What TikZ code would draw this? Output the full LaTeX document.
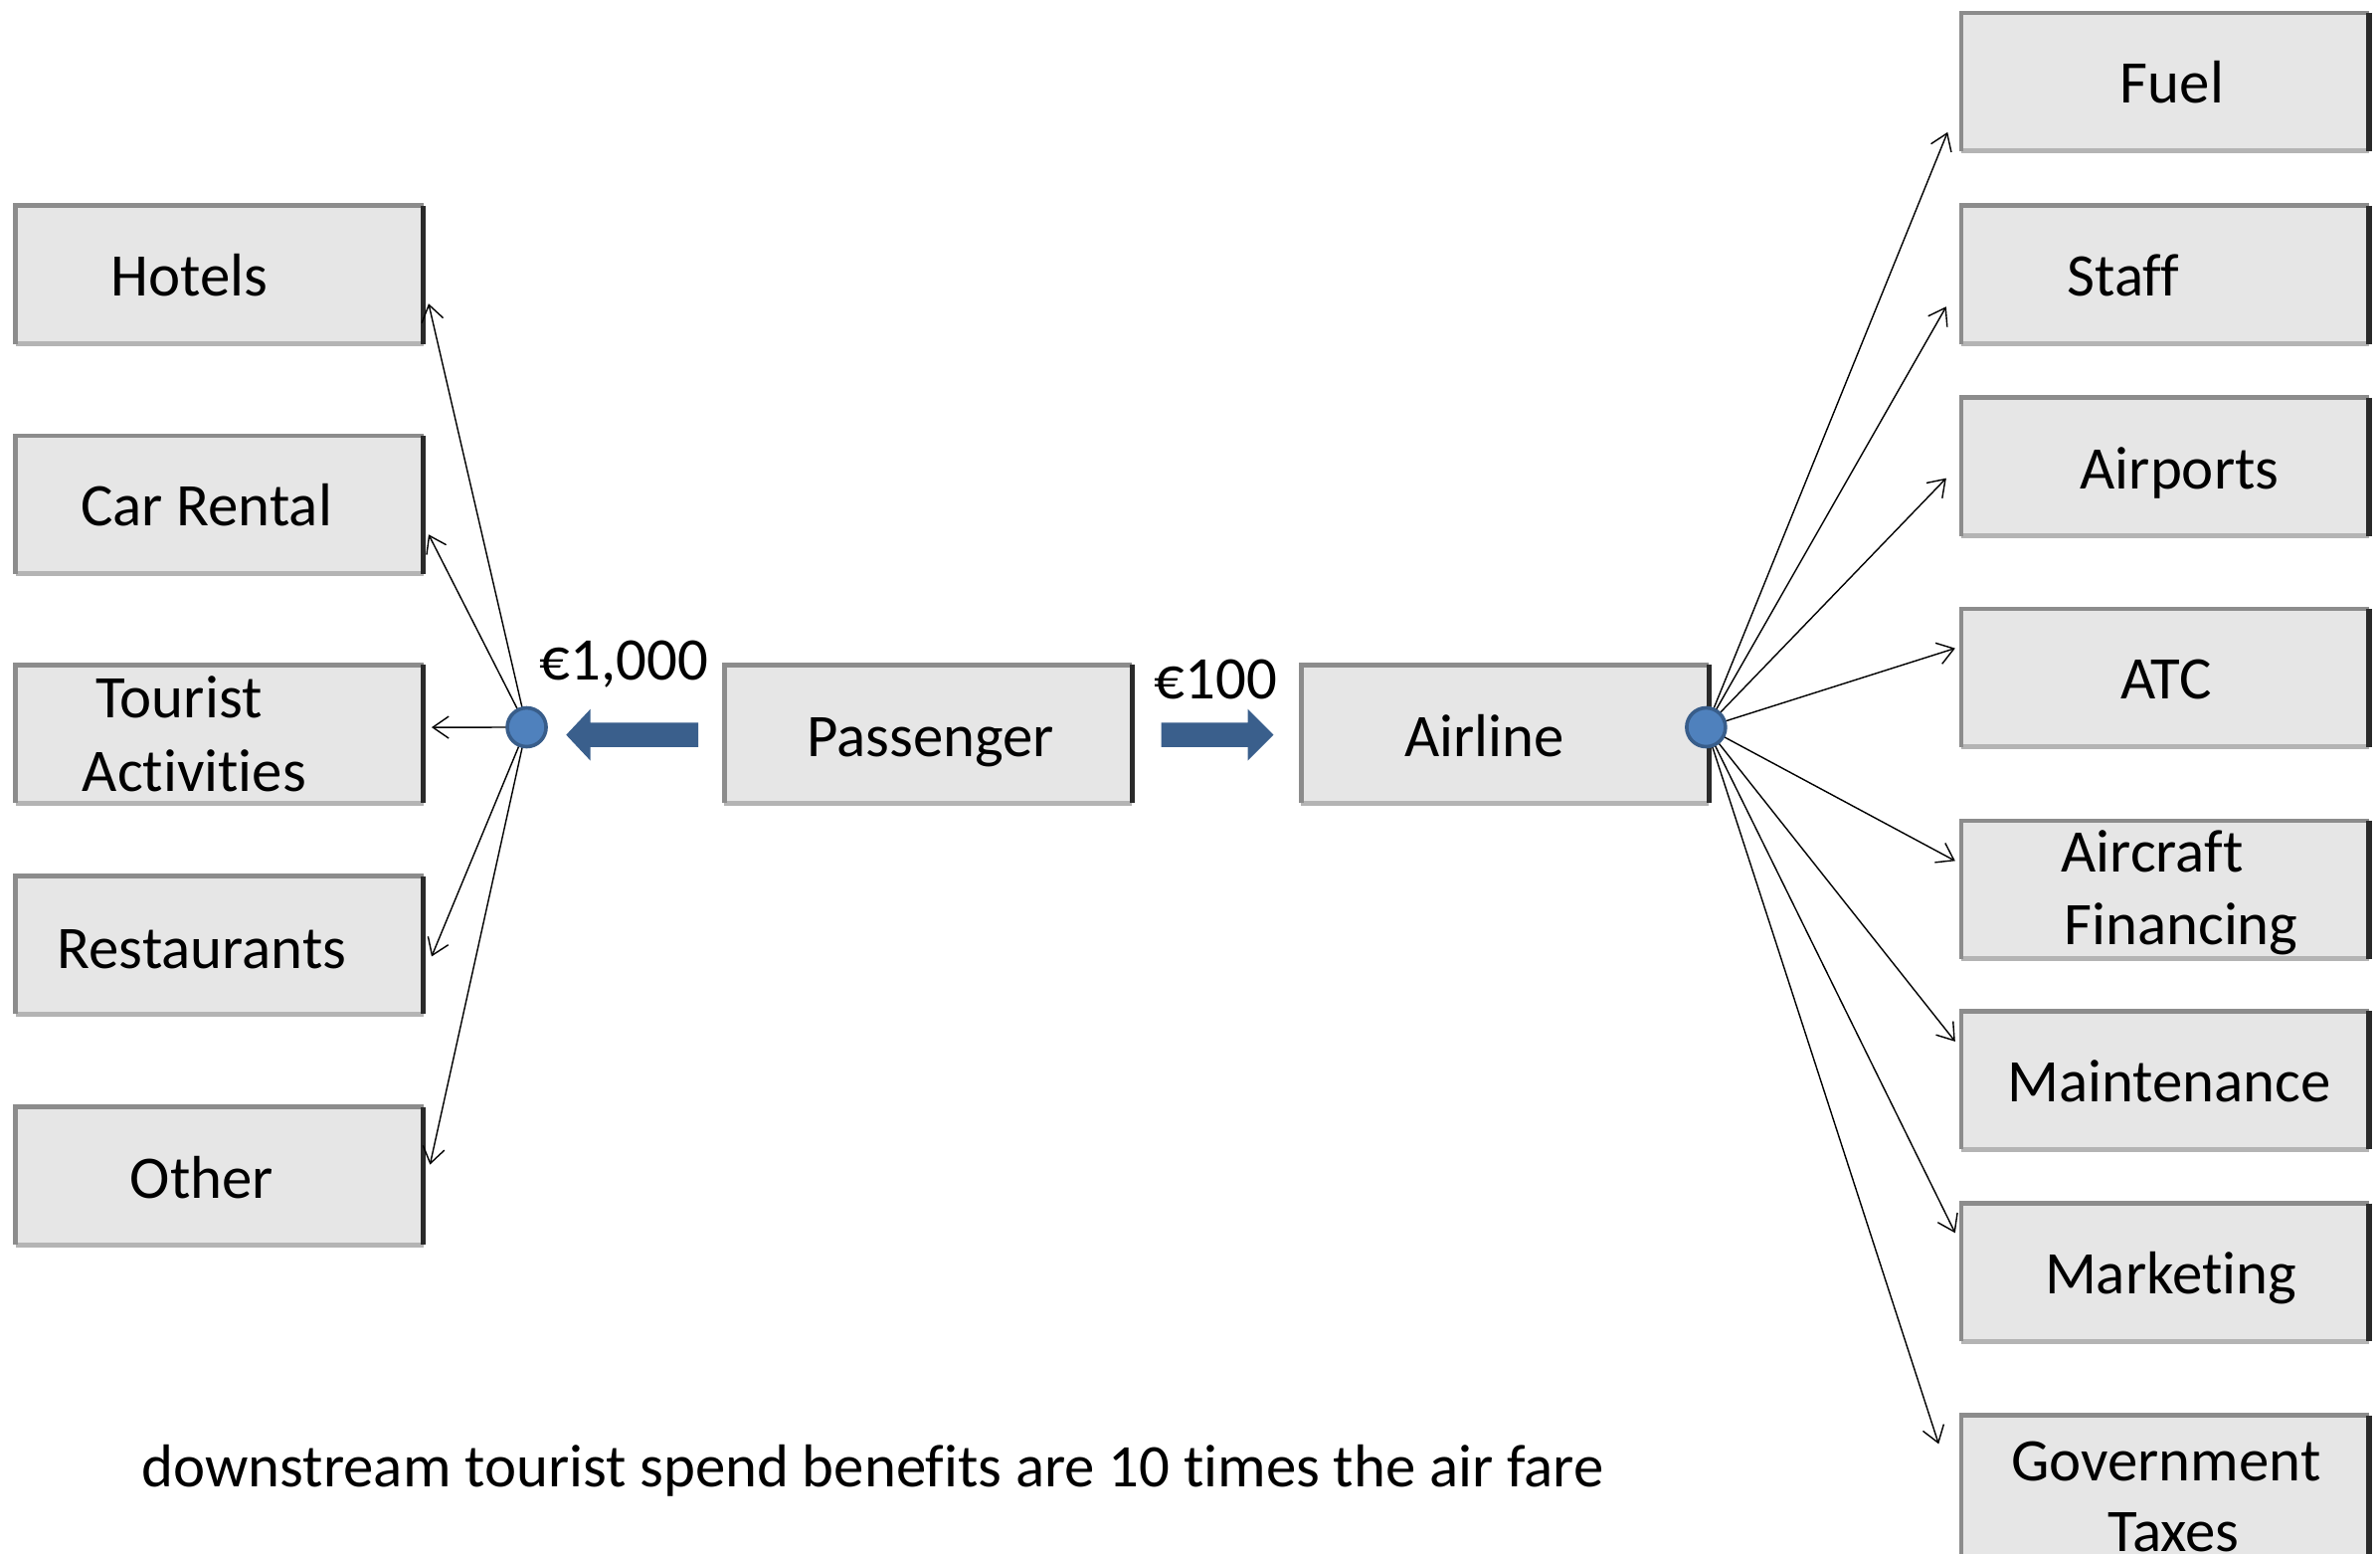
\documentclass[tikz,border=0pt]{standalone}
\usepackage{fontspec}
\setmainfont{Carlito}[Ligatures={NoCommon,NoContextual}]
\usetikzlibrary{arrows.meta}
\definecolor{boxfill}{HTML}{E6E6E6}
\definecolor{edgelight}{HTML}{8C8C8C}
\definecolor{edgebottom}{HTML}{B4B4B4}
\definecolor{edgedark}{HTML}{2A2A2A}
\definecolor{hubfill}{HTML}{4F81BD}
\definecolor{hubedge}{HTML}{385D8A}
\definecolor{bigarrow}{HTML}{3A5F8C}
\begin{document}
\begin{tikzpicture}[x=0.763pt,y=-0.763pt,
  box/.style={fill=boxfill, minimum width=205pt, minimum height=69.4pt, inner sep=0pt, outer sep=0pt},
  lbl/.style={font=\fontsize{30.4}{36}\selectfont, inner sep=0pt, anchor=base},
  hub/.style={circle, fill=hubfill, draw=hubedge, line width=1.8pt, minimum size=19.5pt, inner sep=0pt},
  link/.style={line width=0.7pt, -{Straight Barb[length=8pt,width=11pt]}},
  fat/.style={fill=bigarrow, draw=none}]
\fill[white] (0,0) rectangle (1568,1023);
\useasboundingbox (0,0) rectangle (1568,1023);

% left boxes
\node[box] (hot) at (144.5,181) {};
\node[box] (car) at (144.5,332.5) {};
\node[box] (tou) at (144.5,483.5) {};
\node[box] (res) at (144.5,622.5) {};
\node[box] (oth) at (144.5,774.5) {};
% middle
\node[box] (pas) at (611.5,483.5) {};
\node[box] (air) at (991.5,483.5) {};
% right boxes
\node[box] (fuel) at (1426.5,54) {};
\node[box] (staff) at (1426.5,181) {};
\node[box] (airp) at (1426.5,307.5) {};
\node[box] (atc) at (1426.5,446.5) {};
\node[box] (fin) at (1426.5,586) {};
\node[box] (mai) at (1426.5,711.5) {};
\node[box] (mkt) at (1426.5,838) {};
\node[box, minimum height=82pt] (gov) at (1426.5,986) {};

\foreach \n in {hot,car,tou,res,oth,pas,air,fuel,staff,airp,atc,fin,mai,mkt,gov}{
  \draw[edgebottom, line width=2.6pt] (\n.south west) -- (\n.south east);
  \draw[edgelight, line width=2.4pt] (\n.south west) -- (\n.north west) -- (\n.north east);
  \draw[edgedark, line width=2.6pt] (\n.north east) -- (\n.south east);
}

% labels
\node[lbl] (hotT) at (125,195) {Hotels};
\node[lbl] (carT) at (136,346) {Car Rental};
\node[lbl] (touA) at (118,473) {Tourist};
\node[lbl] (touB) at (128,521) {Activities};
\node[lbl] (resT) at (133,638) {Restaurants};
\node[lbl] (othT) at (133,789) {Other};
\node[lbl] (pasT) at (613,498) {Passenger};
\node[lbl] (airT) at (978,498) {Airline};
\node[lbl] (fuelT) at (1431,68) {Fuel};
\node[lbl] (staffT) at (1399,195) {Staff};
\node[lbl] (airpT) at (1436,322) {Airports};
\node[lbl] (atcT) at (1427,460) {ATC};
\node[lbl] (finA) at (1418,574) {Aircraft};
\node[lbl] (finB) at (1437,622) {Financing};
\node[lbl] (maiT) at (1429,726) {Maintenance};
\node[lbl] (mktT) at (1430,852) {Marketing};
\node[lbl] (govA) at (1427,975) {Government};
\node[lbl] (govB) at (1432,1022) {Taxes};
\node[lbl] (eur1) at (411,448) {€1,000};
\node[lbl] (eur2) at (801,460) {€100};
\node[lbl] (note) at (575,979) {downstream tourist spend benefits are 10 times the air fare};

% hubs (coordinates first, lines, then circles)
\coordinate (lhubc) at (347,479);
\coordinate (rhubc) at (1124,479);

\draw[link] (lhubc) -- ([xshift=2.7pt,yshift=-14.5pt]hot.east);
\draw[link] (lhubc) -- ([xshift=2.7pt,yshift=-14.9pt]car.east);
\draw[link] (lhubc) -- ([xshift=4.2pt,yshift=3.4pt]tou.east);
\draw[link] (lhubc) -- ([xshift=4.2pt,yshift=-5.7pt]res.east);
\draw[link] (lhubc) -- ([xshift=3.4pt,yshift=5.7pt]oth.east);

\draw[link] (rhubc) -- ([xshift=-6.9pt,yshift=-25.2pt]fuel.west);
\draw[link] (rhubc) -- ([xshift=-7.6pt,yshift=-16pt]staff.west);
\draw[link] (rhubc) -- ([xshift=-7.6pt,yshift=-5.7pt]airp.west);
\draw[link] (rhubc) -- ([xshift=-3.1pt,yshift=14.9pt]atc.west);
\draw[link] (rhubc) -- ([xshift=-3.1pt,yshift=14.5pt]fin.west);
\draw[link] (rhubc) -- ([xshift=-3.1pt,yshift=19.5pt]mai.west);
\draw[link] (rhubc) -- ([xshift=-3.1pt,yshift=19.8pt]mkt.west);
\draw[link] (rhubc) -- ([xshift=-11.4pt,yshift=26.7pt]gov.west);

\node[hub] (lhub) at (lhubc) {};
\node[hub] (rhub) at (rhubc) {};

% fat arrows
\fill[fat] (460,476) -- (389,476) -- (389,467) -- (373,484) -- (389,501) -- (389,492) -- (460,492) -- cycle;
\fill[fat] (765,476) -- (822,476) -- (822,467) -- (839,484) -- (822,501) -- (822,492) -- (765,492) -- cycle;
\end{tikzpicture}
\end{document}
